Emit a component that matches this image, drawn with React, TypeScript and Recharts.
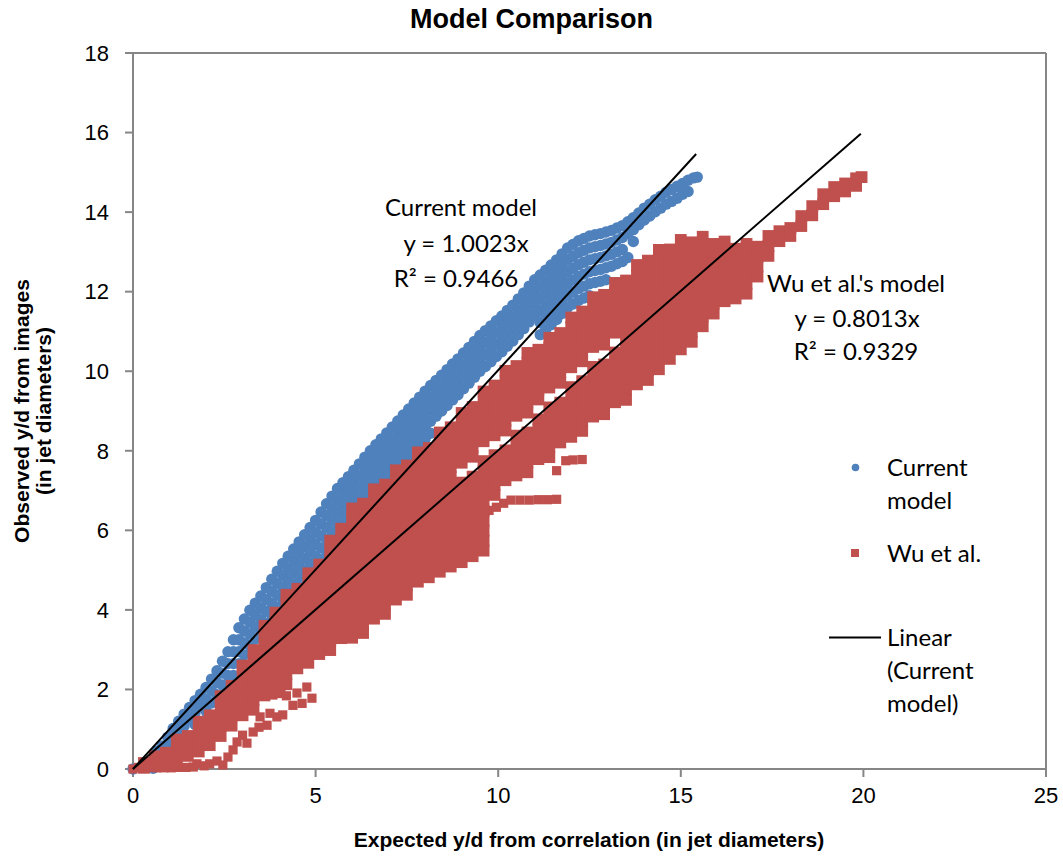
import React from "react";
import { ScatterChart, Scatter, XAxis, YAxis, ReferenceLine } from "recharts";

// axis ticks
const xTicks = [0, 5, 10, 15, 20, 25];
const yTicks = [0, 2, 4, 6, 8, 10, 12, 14, 16, 18];

type Col = [number, number[]];
type Pt = [number, number];

const currentStart: Pt[] = [[0, 0], [0.55, 0.02], [0.75, 0.08], [0.9, 0.15]];

const currentColsA: Col[] = [
  [0.5, [0.18, 0.04]], [0.65, [0.45, 0.2]], [0.8, [0.58, 0.3]], [0.95, [0.8, 0.55]],
  [1.1, [1.02, 0.72]], [1.25, [1.2, 0.93]], [1.4, [1.38, 1.08]], [1.55, [1.55, 1.25]],
  [1.7, [1.72, 1.42, 1.12]], [1.85, [1.88, 1.58]], [2.0, [2.05, 1.75, 1.45]],
  [2.15, [2.26, 1.96, 1.66]], [2.3, [2.47, 2.17, 1.87]], [2.45, [2.71, 2.41, 2.11]],
  [2.6, [2.95, 2.65, 2.35, 2.05]], [2.75, [3.25, 2.95, 2.65, 2.35]], [2.9, [3.55, 3.25, 2.95, 2.65]],
  [3.05, [3.77, 3.47, 3.17, 2.87]], [3.2, [3.99, 3.69, 3.39, 3.09]], [3.35, [4.17, 3.87, 3.57, 3.27]],
  [3.5, [4.35, 4.05, 3.75, 3.45]], [3.65, [4.56, 4.26, 3.96, 3.66]], [3.8, [4.77, 4.47, 4.17, 3.87]],
  [3.95, [4.97, 4.67, 4.37, 4.07]], [4.1, [5.17, 4.87, 4.57, 4.27]], [4.25, [5.35, 5.05, 4.75, 4.45]],
  [4.4, [5.53, 5.23, 4.93, 4.63]], [4.55, [5.71, 5.41, 5.11, 4.81]], [4.7, [5.89, 5.59, 5.29, 4.99]],
  [4.85, [6.07, 5.77, 5.47, 5.17]],
];

const currentColsB: Col[] = [
  [5.0, [6.25, 5.95, 5.65, 5.35, 5.05]], [5.15, [6.46, 6.16, 5.86, 5.56, 5.26]],
  [5.3, [6.67, 6.37, 6.07, 5.77, 5.47]], [5.45, [6.86, 6.56, 6.26, 5.96]],
  [5.6, [7.05, 6.75, 6.45, 6.15]], [5.75, [7.2, 6.9, 6.6, 6.3]], [5.9, [7.35, 7.05, 6.75, 6.45]],
  [6.05, [7.51, 7.21, 6.91, 6.61]], [6.2, [7.67, 7.37, 7.07, 6.77]], [6.35, [7.84, 7.54, 7.24, 6.94]],
  [6.5, [8.0, 7.7, 7.4, 7.1, 6.8]], [6.65, [8.15, 7.85, 7.55, 7.25]], [6.8, [8.3, 8.0, 7.7, 7.4, 7.1]],
  [6.95, [8.45, 8.15, 7.85, 7.55, 7.25]], [7.1, [8.6, 8.3, 8.0, 7.7, 7.4]],
  [7.25, [8.75, 8.45, 8.15, 7.85, 7.55]], [7.4, [8.9, 8.6, 8.3, 8.0, 7.7]],
  [7.55, [9.05, 8.75, 8.45, 8.15, 7.85]], [7.7, [9.2, 8.9, 8.6, 8.3, 8.0]],
  [7.85, [9.35, 9.05, 8.75, 8.45, 8.15]], [8.0, [9.5, 9.2, 8.9, 8.6, 8.3, 8.0]],
  [8.15, [9.64, 9.34, 9.04, 8.74, 8.44]], [8.3, [9.77, 9.47, 9.17, 8.87]], [8.45, [9.9, 9.6, 9.3, 9.0]],
  [8.6, [10.04, 9.74, 9.44, 9.14]], [8.75, [10.18, 9.88, 9.58, 9.28]], [8.9, [10.31, 10.01, 9.71, 9.41]],
  [9.05, [10.46, 10.16, 9.86, 9.56]], [9.2, [10.6, 10.3, 10.0, 9.7]], [9.35, [10.75, 10.45, 10.15, 9.85]],
  [9.5, [10.9, 10.6, 10.3, 10.0]], [9.65, [11.02, 10.72, 10.42, 10.12]],
  [9.8, [11.14, 10.84, 10.54, 10.24]], [9.95, [11.27, 10.97, 10.67, 10.37]],
];

const currentColsC: Col[] = [
  [10.1, [11.39, 11.09, 10.79, 10.49]], [10.25, [11.53, 11.23, 10.93, 10.63]],
  [10.4, [11.66, 11.36, 11.06, 10.76]], [10.55, [11.82, 11.52, 11.22, 10.92]],
  [10.7, [11.97, 11.67, 11.37, 11.07]], [10.85, [12.14, 11.84, 11.54, 11.24]],
  [11.0, [12.3, 12.0, 11.7, 11.4]], [11.15, [12.42, 12.12, 11.82, 11.52, 11.22, 10.92]],
  [11.3, [12.54, 12.24, 11.94, 11.64, 11.34, 11.04]], [11.45, [12.67, 12.37, 12.07, 11.77, 11.47, 11.17]],
  [11.6, [12.8, 12.5, 12.2, 11.9, 11.6, 11.3]], [11.75, [12.95, 12.65, 12.35, 12.05, 11.75, 11.45]],
  [11.9, [13.1, 12.8, 12.5, 12.2, 11.9, 11.6]], [12.05, [13.19, 12.89, 12.59, 12.29, 11.99, 11.69]],
  [12.2, [13.28, 12.98, 12.68, 12.38, 12.08, 11.78]], [12.35, [13.34, 13.04, 12.74, 12.44, 12.14, 11.84]],
  [12.5, [13.4, 13.1, 12.8, 12.5, 12.2, 11.9]], [12.65, [13.43, 13.13, 12.83, 12.53, 12.23]],
  [12.8, [13.46, 13.16, 12.86, 12.56, 12.26]], [12.95, [13.5, 13.2, 12.9, 12.6, 12.3]],
  [13.1, [13.54, 13.24, 12.94, 12.64]], [13.25, [13.6, 13.3, 13.0, 12.7]],
  [13.4, [13.66, 13.36, 13.06, 12.76]], [13.55, [13.76, 13.46, 12.86]], [13.7, [13.86, 13.56, 13.26]],
  [13.85, [13.98, 13.68]], [14.0, [14.1, 13.8]], [14.15, [14.2, 13.9]], [14.3, [14.31, 14.01]],
  [14.45, [14.4, 14.1]], [14.6, [14.5, 14.2]], [14.75, [14.57, 14.27]], [14.9, [14.65, 14.35]],
  [15.05, [14.72, 14.45]], [15.2, [14.8, 14.52]], [15.35, [14.86]], [15.45, [14.88]],
];

// "Wu et al." – same observations against Wu's correlation
const wuColsA: Col[] = [
  [0.3, [0.15, 0.03]], [0.6, [0.32, 0.07]], [0.9, [0.41, 0.16]], [1.2, [0.74, 0.49, 0.24]],
  [1.5, [0.83, 0.58, 0.33]], [1.8, [1.19, 0.94, 0.69, 0.44]], [2.1, [1.35, 1.1, 0.85, 0.6]],
  [2.4, [1.83, 1.58, 1.33, 1.08, 0.83]], [2.7, [2.09, 1.84, 1.59, 1.34, 1.09]],
  [3.0, [2.6, 2.35, 2.1, 1.85, 1.6, 1.35]], [3.3, [2.99, 2.74, 2.49, 2.24, 1.99, 1.74, 1.49]],
  [3.6, [3.6, 3.35, 3.1, 2.85, 2.6, 2.35, 2.1, 1.85]],
  [3.9, [3.93, 3.68, 3.43, 3.18, 2.93, 2.68, 2.43, 2.18, 1.93]],
  [4.2, [4.38, 4.13, 3.88, 3.63, 3.38, 3.13, 2.88, 2.63, 2.38, 2.13]],
  [4.5, [4.53, 4.28, 4.03, 3.78, 3.53, 3.28, 3.03, 2.78, 2.53]],
  [4.8, [4.92, 4.67, 4.42, 4.17, 3.92, 3.67, 3.42, 3.17, 2.92, 2.67]],
];

const wuColsB: Col[] = [
  [5.1, [5.14, 4.89, 4.64, 4.39, 4.14, 3.89, 3.64, 3.39, 3.14, 2.89]],
  [5.4, [5.74, 5.49, 5.24, 4.99, 4.74, 4.49, 4.24, 3.99, 3.74, 3.49, 3.24, 2.99]],
  [5.7, [6.04, 5.79, 5.54, 5.29, 5.04, 4.79, 4.54, 4.29, 4.04, 3.79, 3.54, 3.29]],
  [6.0, [6.55, 6.3, 6.05, 5.8, 5.55, 5.3, 5.05, 4.8, 4.55, 4.3, 4.05, 3.8, 3.55, 3.3]],
  [6.3, [6.67, 6.42, 6.17, 5.92, 5.67, 5.42, 5.17, 4.92, 4.67, 4.42, 4.17, 3.92, 3.67, 3.42]],
  [6.6, [7.03, 6.78, 6.53, 6.28, 6.03, 5.78, 5.53, 5.28, 5.03, 4.78, 4.53, 4.28, 4.03, 3.78]],
  [6.9, [7.15, 6.9, 6.65, 6.4, 6.15, 5.9, 5.65, 5.4, 5.15, 4.9, 4.65, 4.4, 4.15, 3.9]],
  [7.2, [7.51, 7.26, 7.01, 6.76, 6.51, 6.26, 6.01, 5.76, 5.51, 5.26, 5.01, 4.76, 4.51, 4.26]],
  [7.5, [7.63, 7.38, 7.13, 6.88, 6.63, 6.38, 6.13, 5.88, 5.63, 5.38, 5.13, 4.88, 4.63, 4.38]],
  [7.8, [7.96, 7.71, 7.46, 7.21, 6.96, 6.71, 6.46, 6.21, 5.96, 5.71, 5.46, 5.21, 4.96, 4.71]],
  [8.1, [8.07, 7.82, 7.57, 7.32, 7.07, 6.82, 6.57, 6.32, 6.07, 5.82, 5.57, 5.32, 5.07, 4.82]],
  [8.4, [8.46, 8.21, 7.96, 7.71, 7.46, 7.21, 6.96, 6.71, 6.46, 6.21, 5.96, 5.71, 5.46, 5.21, 4.96]],
  [8.7, [8.59, 8.34, 8.09, 7.84, 7.59, 7.34, 7.09, 6.84, 6.59, 6.34, 6.09, 5.84, 5.59, 5.34, 5.09]],
  [9.0, [8.95, 8.7, 8.45, 8.2, 7.95, 7.7, 7.2, 6.95, 6.7, 6.45, 6.2, 5.95, 5.7, 5.45, 5.2]],
  [9.3, [9.1, 8.85, 8.6, 8.35, 8.1, 7.85, 7.35, 7.1, 6.85, 6.6, 6.35, 6.1, 5.85, 5.6, 5.35]],
  [9.6, [9.49, 9.24, 8.99, 8.74, 8.49, 8.24, 7.74, 7.49, 7.24, 6.99, 6.74, 6.49, 6.24, 5.99, 5.74, 5.49]],
];

const wuColsC: Col[] = [
  [9.9, [9.64, 9.39, 9.14, 8.89, 8.64, 8.39, 7.89, 7.64, 7.39, 7.14, 6.89]],
  [10.2, [10.01, 9.76, 9.51, 9.26, 9.01, 8.76, 8.51, 8.01, 7.76, 7.51, 7.26]],
  [10.5, [10.13, 9.88, 9.63, 9.38, 9.13, 8.88, 8.38, 8.13, 7.88, 7.63, 7.38]],
  [10.8, [10.46, 10.21, 9.96, 9.71, 9.46, 9.21, 8.96, 8.46, 8.21, 7.96, 7.71, 7.46]],
  [11.1, [10.54, 10.29, 10.04, 9.79, 9.54, 9.29, 8.79, 8.54, 8.29, 8.04, 7.79]],
  [11.4, [10.84, 10.59, 10.34, 10.09, 9.84, 9.59, 9.09, 8.84, 8.59, 8.34, 8.09, 7.84]],
  [11.7, [10.96, 10.71, 10.46, 10.21, 9.96, 9.71, 9.21, 8.96, 8.71, 8.46, 8.21]],
  [12.0, [11.35, 11.1, 10.85, 10.6, 10.35, 10.1, 9.6, 9.35, 9.1, 8.85, 8.6, 8.35]],
  [12.3, [11.5, 11.25, 11.0, 10.75, 10.5, 10.25, 9.75, 9.5, 9.25, 9.0, 8.75, 8.5]],
  [12.6, [11.86, 11.61, 11.36, 11.11, 10.86, 10.61, 10.11, 9.86, 9.61, 9.36, 9.11, 8.86]],
  [12.9, [11.92, 11.67, 11.42, 11.17, 10.92, 10.67, 10.17, 9.92, 9.67, 9.42, 9.17, 8.92]],
  [13.2, [12.22, 11.97, 11.72, 11.47, 11.22, 10.97, 10.47, 10.22, 9.97, 9.72, 9.47, 9.22]],
  [13.5, [12.28, 12.03, 11.78, 11.53, 11.28, 11.03, 10.78, 10.53, 10.28, 10.03, 9.78, 9.53, 9.28]],
  [13.8, [12.67, 12.42, 12.17, 11.92, 11.67, 11.42, 11.17, 10.92, 10.67, 10.42, 10.17, 9.92, 9.67]],
  [14.1, [12.78, 12.53, 12.28, 12.03, 11.78, 11.53, 11.28, 11.03, 10.78, 10.53, 10.28, 10.03, 9.78]],
  [14.4, [13.05, 12.8, 12.55, 12.3, 12.05, 11.8, 11.55, 11.3, 11.05, 10.8, 10.55, 10.3, 10.05]],
  [14.7, [13.06, 12.81, 12.56, 12.31, 12.06, 11.81, 11.56, 11.31, 11.06, 10.81, 10.56, 10.31]],
];

const wuColsD: Col[] = [
  [15.0, [13.3, 13.05, 12.8, 12.55, 12.3, 12.05, 11.8, 11.55, 11.3, 11.05, 10.8, 10.55]],
  [15.3, [13.24, 12.99, 12.74, 12.49, 12.24, 11.99, 11.74, 11.49, 11.24, 10.99, 10.74]],
  [15.6, [13.38, 13.13, 12.88, 12.63, 12.38, 12.13, 11.88, 11.63, 11.38, 11.13]],
  [15.9, [13.2, 12.95, 12.7, 12.45, 12.2, 11.95, 11.7, 11.45]],
  [16.2, [13.26, 13.01, 12.76, 12.51, 12.26, 12.01, 11.76]],
  [16.5, [13.08, 12.83, 12.58, 12.33, 12.08, 11.83]],
  [16.8, [13.2, 12.95, 12.7, 12.45, 12.2, 11.95]],
  [17.1, [13.13, 12.88, 12.63, 12.38]], [17.4, [13.4, 13.15, 12.9]], [17.7, [13.52, 13.27]],
  [18.0, [13.6, 13.4]], [18.3, [13.9, 13.65]], [18.6, [14.15, 13.92]], [18.9, [14.45, 14.2]],
  [19.2, [14.63, 14.4]], [19.5, [14.72, 14.52]], [19.8, [14.85, 14.66]], [19.95, [14.88]],
];

const wuLowTrack: Pt[] = [
  [9.75, 6.5], [9.95, 6.58], [10.15, 6.68], [10.35, 6.76], [10.6, 6.76], [10.85, 6.76],
  [11.1, 6.77], [11.35, 6.77], [11.6, 6.78], [11.6, 7.5], [11.85, 7.75], [12.05, 7.77], [12.3, 7.78],
];

const wuStray: Pt[] = [
  [0, 0], [0.15, 0.04], [0.65, 0.03], [0.85, 0.03], [1.05, 0.03], [1.25, 0.04], [1.45, 0.04],
  [1.65, 0.05], [1.75, 0.13], [1.95, 0.08], [2.1, 0.13], [2.3, 0.2], [2.46, 0.1], [2.6, 0.3],
  [2.74, 0.48], [2.85, 0.68], [3.12, 0.65], [3.0, 0.85], [3.29, 0.93], [3.45, 1.05], [3.67, 1.1],
  [3.48, 1.31], [3.75, 1.4], [3.94, 1.31], [4.1, 1.36], [3.83, 1.86], [4.05, 1.9], [4.2, 1.84],
  [4.38, 1.6], [4.49, 1.91], [4.63, 1.65], [4.76, 2.06], [4.9, 1.78],
];

// linear trendlines through the origin (y = 1.0023x and y = 0.8013x)
const currentTrend: Pt[] = [[0, 0], [15.42, 15.46]];
const wuTrend: Pt[] = [[0, 0], [19.93, 15.97]];

const fromCols = (cols: Col[]) => cols.flatMap(([x, ys]) => ys.map((y) => ({ x, y })));
const fromPts = (pts: Pt[]) => pts.map(([x, y]) => ({ x, y }));

const currentData = [
  ...fromPts(currentStart),
  ...fromCols(currentColsA),
  ...fromCols(currentColsB),
  ...fromCols(currentColsC),
];
const wuBandData = [...fromCols(wuColsA), ...fromCols(wuColsB), ...fromCols(wuColsC), ...fromCols(wuColsD)];
const wuExtraData = [...fromPts(wuLowTrack), ...fromPts(wuStray)];

const BLUE = "#4F81BD";
const RED = "#C0504D";
const AXIS = "#868686";
const TEXT_FONT = "Lato, 'Open Sans', sans-serif";
const AXIS_FONT = "'Liberation Sans', Arial, sans-serif";

const BlueDot = (p: any) => <circle cx={p.cx} cy={p.cy} r={5.7} fill={BLUE} />;
const RedSquare = (p: any) => <rect x={p.cx - 5.9} y={p.cy - 5.9} width={11.8} height={11.8} fill={RED} />;
const RedSmall = (p: any) => <rect x={p.cx - 4.6} y={p.cy - 4.6} width={9.2} height={9.2} fill={RED} />;
const NoMark = () => <g />;

const Note = ({ x, y, text, align = "center" }: { x: number; y: number; text: string; align?: string }) => (
  <div
    style={{
      position: "absolute",
      left: align === "center" ? x - 150 : x,
      width: 300,
      top: y - 15,
      lineHeight: "30px",
      fontSize: 24,
      fontFamily: TEXT_FONT,
      textAlign: align as any,
      color: "#000",
      whiteSpace: "nowrap",
    }}
  >
    {text}
  </div>
);

export default function App() {
  return (
    <div style={{ position: "absolute", left: 0, top: 0, width: 1063, height: 856, background: "#fff" }}>
      <ScatterChart width={1063} height={856} margin={{ top: 53, right: 17, bottom: 27, left: 73 }}>
        <XAxis
          type="number"
          dataKey="x"
          domain={[0, 25]}
          ticks={xTicks}
          interval={0}
          height={60}
          tickSize={8}
          tickMargin={10}
          axisLine={{ stroke: AXIS, strokeWidth: 2 }}
          tickLine={{ stroke: AXIS, strokeWidth: 2 }}
          tick={{ fontSize: 22, fill: "#000", fontFamily: AXIS_FONT }}
        />
        <YAxis
          type="number"
          dataKey="y"
          domain={[0, 18]}
          ticks={yTicks}
          interval={0}
          width={60}
          tickSize={8}
          tickMargin={16}
          axisLine={{ stroke: AXIS, strokeWidth: 2 }}
          tickLine={{ stroke: AXIS, strokeWidth: 2 }}
          tick={{ fontSize: 22, fill: "#000", fontFamily: AXIS_FONT }}
        />
        <ReferenceLine y={18} stroke={AXIS} strokeWidth={2} />
        <ReferenceLine x={25} stroke={AXIS} strokeWidth={2} />
        <Scatter name="Current model" data={currentData} shape={BlueDot} isAnimationActive={false} />
        <Scatter name="Wu et al." data={wuBandData} shape={RedSquare} isAnimationActive={false} />
        <Scatter name="Wu et al. stray" data={wuExtraData} shape={RedSmall} isAnimationActive={false} />
        <Scatter
          name="Linear (Current model)"
          data={fromPts(currentTrend)}
          shape={NoMark}
          line={{ stroke: "#000", strokeWidth: 2 }}
          isAnimationActive={false}
        />
        <Scatter
          name="Linear (Wu et al.)"
          data={fromPts(wuTrend)}
          shape={NoMark}
          line={{ stroke: "#000", strokeWidth: 2 }}
          isAnimationActive={false}
        />
      </ScatterChart>

      <div
        style={{
          position: "absolute",
          left: 0,
          width: 1063,
          top: 3,
          lineHeight: "32px",
          textAlign: "center",
          fontSize: 27,
          fontWeight: "bold",
          fontFamily: AXIS_FONT,
        }}
      >
        Model Comparison
      </div>
      <div
        style={{
          position: "absolute",
          left: 289,
          width: 600,
          top: 828,
          lineHeight: "24px",
          textAlign: "center",
          fontSize: 21,
          fontWeight: "bold",
          fontFamily: AXIS_FONT,
        }}
      >
        Expected y/d from correlation (in jet diameters)
      </div>
      <div
        style={{
          position: "absolute",
          left: 33 - 250,
          top: 411 - 22,
          width: 500,
          height: 44,
          lineHeight: "22px",
          textAlign: "center",
          fontSize: 21,
          fontWeight: "bold",
          fontFamily: AXIS_FONT,
          transform: "rotate(-90deg)",
        }}
      >
        Observed y/d from images
        <br />
        (in jet diameters)
      </div>

      <Note x={461} y={207} text="Current model" />
      <Note x={466} y={243} text="y = 1.0023x" />
      <Note x={456} y={278} text="R² = 0.9466" />
      <Note x={856} y={283} text="Wu et al.'s model" />
      <Note x={857} y={318} text="y = 0.8013x" />
      <Note x={856} y={351} text="R² = 0.9329" />

      <svg style={{ position: "absolute", left: 0, top: 0 }} width={1063} height={856} pointerEvents="none">
        <circle cx={855.5} cy={467.5} r={3.8} fill={BLUE} />
        <rect x={851} y={549} width={8} height={8} fill={RED} />
        <line x1={829} x2={881} y1={637.5} y2={637.5} stroke="#000" strokeWidth={2} />
      </svg>
      <Note x={887} y={467} text="Current" align="left" />
      <Note x={887} y={500} text="model" align="left" />
      <Note x={887} y={553} text="Wu et al." align="left" />
      <Note x={887} y={637} text="Linear" align="left" />
      <Note x={887} y={670} text="(Current" align="left" />
      <Note x={887} y={703} text="model)" align="left" />
    </div>
  );
}
